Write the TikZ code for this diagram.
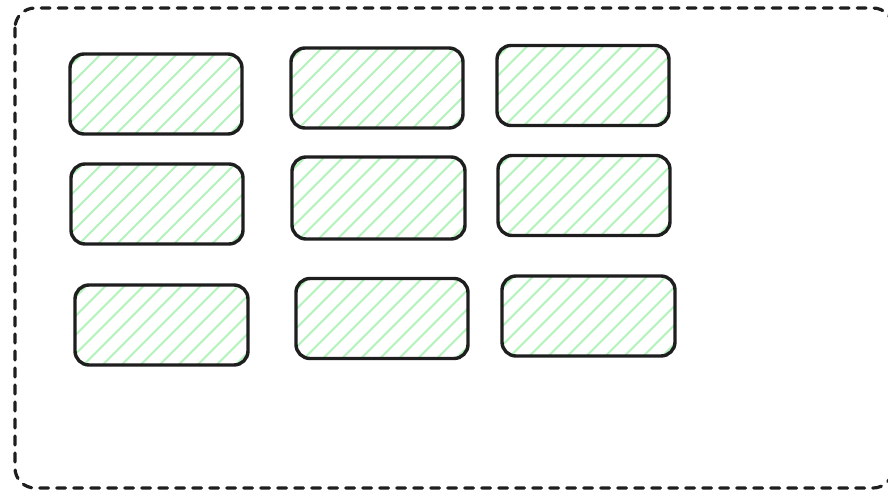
\documentclass[tikz,border=0pt]{standalone}
\definecolor{hatchgreen}{HTML}{B2F2BB}
\definecolor{inkblack}{HTML}{1E1E1E}
\tikzset{
  hbox/.style={draw=inkblack, line width=3.4pt, rounded corners=14pt, inner sep=0pt,
    minimum width=172pt, minimum height=80pt,
    path picture={
      \foreach \i in {-9,...,9}
        \draw[hatchgreen, line width=2pt, shift={(path picture bounding box.center)}]
          (\i*19pt-110pt,-110pt) -- ++(220pt,220pt);
    }},
  outerframe/.style={draw=inkblack, line width=3.2pt, dash pattern=on 9pt off 8pt,
    line cap=round, rounded corners=20pt}
}
\begin{document}
\begin{tikzpicture}[x=1pt,y=-1pt]
\useasboundingbox (0,0) rectangle (888,490);
\draw[outerframe] (15,8) rectangle (893,488);
% row 1
\node[hbox] (b11) at (156,94) {};
\node[hbox] (b12) at (377,88) {};
\node[hbox] (b13) at (583,85.5) {};
% row 2
\node[hbox] (b21) at (157,204) {};
\node[hbox, minimum width=173pt, minimum height=82pt] (b22) at (378.5,198) {};
\node[hbox] (b23) at (584,195.5) {};
% row 3
\node[hbox, minimum width=173pt] (b31) at (161.5,325) {};
\node[hbox] (b32) at (382,318.5) {};
\node[hbox, minimum width=173pt] (b33) at (588.5,316) {};
\end{tikzpicture}
\end{document}
